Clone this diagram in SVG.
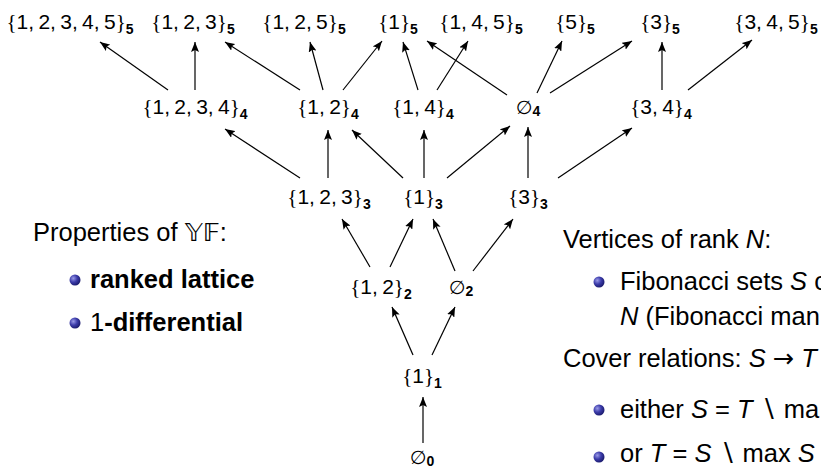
<svg xmlns="http://www.w3.org/2000/svg" width="821" height="468" viewBox="0 0 821 468">
<style>
  .lbl { font-family: "Liberation Sans", Arial, sans-serif; font-size: 21px; fill: #000; word-spacing: -1.5px; text-anchor: middle; }
  .br { font-family: "Liberation Serif", "Times New Roman", serif; }
  .sub { font-size: 14px; font-weight: bold; }
  .emp { font-family: "DejaVu Sans", sans-serif; font-style: italic; font-size: 19px; }
  .body { font-family: "Liberation Sans", Arial, sans-serif; font-size: 25.5px; fill: #000; }
  .b { font-weight: bold; }
  .it { font-style: italic; }
  .ds { font-family: "DejaVu Sans", sans-serif; }
  .sym { font-family: "DejaVu Sans", sans-serif; }
  .edge { stroke: #000; stroke-width: 1.2; fill: none; marker-end: url(#ah); }
</style>
<defs>
  <marker id="ah" viewBox="0 0 10 8" refX="10" refY="4" markerWidth="10" markerHeight="8" markerUnits="userSpaceOnUse" orient="auto">
    <path d="M0,0 L10,4 L0,8 L2,4 z" fill="#000"/>
  </marker>
  <radialGradient id="ball" cx="0.35" cy="0.35" r="0.7">
    <stop offset="0" stop-color="#9a9ae8"/>
    <stop offset="0.5" stop-color="#3c3caa"/>
    <stop offset="1" stop-color="#18186a"/>
  </radialGradient>
</defs>

<!-- rank 5 -->
<g id="n5_12345"><text class="lbl" x="70" y="29"><tspan class="br">{</tspan>1, 2, 3, 4, 5<tspan class="br">}</tspan><tspan class="sub" dy="5">5</tspan></text></g>
<g id="n5_123"><text class="lbl" x="193" y="29"><tspan class="br">{</tspan>1, 2, 3<tspan class="br">}</tspan><tspan class="sub" dy="5">5</tspan></text></g>
<g id="n5_125"><text class="lbl" x="304" y="29"><tspan class="br">{</tspan>1, 2, 5<tspan class="br">}</tspan><tspan class="sub" dy="5">5</tspan></text></g>
<g id="n5_1"><text class="lbl" x="398" y="29"><tspan class="br">{</tspan>1<tspan class="br">}</tspan><tspan class="sub" dy="5">5</tspan></text></g>
<g id="n5_145"><text class="lbl" x="481" y="29"><tspan class="br">{</tspan>1, 4, 5<tspan class="br">}</tspan><tspan class="sub" dy="5">5</tspan></text></g>
<g id="n5_5"><text class="lbl" x="575" y="29"><tspan class="br">{</tspan>5<tspan class="br">}</tspan><tspan class="sub" dy="5">5</tspan></text></g>
<g id="n5_3"><text class="lbl" x="660" y="29"><tspan class="br">{</tspan>3<tspan class="br">}</tspan><tspan class="sub" dy="5">5</tspan></text></g>
<g id="n5_345"><text class="lbl" x="776" y="29"><tspan class="br">{</tspan>3, 4, 5<tspan class="br">}</tspan><tspan class="sub" dy="5">5</tspan></text></g>

<!-- rank 4 -->
<g id="n4_1234"><text class="lbl" x="195" y="114"><tspan class="br">{</tspan>1, 2, 3, 4<tspan class="br">}</tspan><tspan class="sub" dy="5">4</tspan></text></g>
<g id="n4_12"><text class="lbl" x="328" y="114"><tspan class="br">{</tspan>1, 2<tspan class="br">}</tspan><tspan class="sub" dy="5">4</tspan></text></g>
<g id="n4_14"><text class="lbl" x="423" y="114"><tspan class="br">{</tspan>1, 4<tspan class="br">}</tspan><tspan class="sub" dy="5">4</tspan></text></g>
<g id="n4_e"><text class="lbl" x="528" y="114"><tspan class="emp">∅</tspan><tspan class="sub" dy="2">4</tspan></text></g>
<g id="n4_34"><text class="lbl" x="661" y="114"><tspan class="br">{</tspan>3, 4<tspan class="br">}</tspan><tspan class="sub" dy="5">4</tspan></text></g>

<!-- rank 3 -->
<g id="n3_123"><text class="lbl" x="329" y="204"><tspan class="br">{</tspan>1, 2, 3<tspan class="br">}</tspan><tspan class="sub" dy="5">3</tspan></text></g>
<g id="n3_1"><text class="lbl" x="423" y="204"><tspan class="br">{</tspan>1<tspan class="br">}</tspan><tspan class="sub" dy="5">3</tspan></text></g>
<g id="n3_3"><text class="lbl" x="528" y="204"><tspan class="br">{</tspan>3<tspan class="br">}</tspan><tspan class="sub" dy="5">3</tspan></text></g>

<!-- rank 2 -->
<g id="n2_12"><text class="lbl" x="381" y="294"><tspan class="br">{</tspan>1, 2<tspan class="br">}</tspan><tspan class="sub" dy="5">2</tspan></text></g>
<g id="n2_e"><text class="lbl" x="461" y="294"><tspan class="emp">∅</tspan><tspan class="sub" dy="2">2</tspan></text></g>

<!-- rank 1 -->
<g id="n1_1"><text class="lbl" x="422" y="383"><tspan class="br">{</tspan>1<tspan class="br">}</tspan><tspan class="sub" dy="5">1</tspan></text></g>

<!-- rank 0 -->
<g id="n0_e"><text class="lbl" x="422" y="464"><tspan class="emp">∅</tspan><tspan class="sub" dy="2">0</tspan></text></g>

<!-- connectors -->
<g id="edges">
  <line class="edge" x1="423" y1="443" x2="423" y2="397"/>
  <line class="edge" x1="413" y1="355" x2="392" y2="307"/>
  <line class="edge" x1="432" y1="355" x2="455" y2="307"/>
  <line class="edge" x1="370" y1="267" x2="342" y2="219"/>
  <line class="edge" x1="390" y1="267" x2="413" y2="219"/>
  <line class="edge" x1="455" y1="271" x2="433" y2="219"/>
  <line class="edge" x1="473" y1="271" x2="513" y2="219"/>
  <line class="edge" x1="300" y1="178" x2="225" y2="129"/>
  <line class="edge" x1="328" y1="178" x2="328" y2="130"/>
  <line class="edge" x1="403" y1="178" x2="352" y2="130"/>
  <line class="edge" x1="424" y1="178" x2="424" y2="130"/>
  <line class="edge" x1="447" y1="178" x2="510" y2="126"/>
  <line class="edge" x1="528" y1="178" x2="528" y2="127"/>
  <line class="edge" x1="558" y1="178" x2="632" y2="128"/>
  <line class="edge" x1="168" y1="90" x2="100" y2="42"/>
  <line class="edge" x1="195" y1="90" x2="195" y2="42"/>
  <line class="edge" x1="300" y1="90" x2="225" y2="42"/>
  <line class="edge" x1="323" y1="90" x2="310" y2="42"/>
  <line class="edge" x1="343" y1="90" x2="382" y2="41"/>
  <line class="edge" x1="418" y1="90" x2="403" y2="42"/>
  <line class="edge" x1="437" y1="90" x2="468" y2="41"/>
  <line class="edge" x1="507" y1="95" x2="427" y2="41"/>
  <line class="edge" x1="537" y1="93" x2="562" y2="41"/>
  <line class="edge" x1="550" y1="93" x2="632" y2="41"/>
  <line class="edge" x1="662" y1="90" x2="662" y2="42"/>
  <line class="edge" x1="688" y1="90" x2="752" y2="40"/>
</g>

<!-- left text -->
<g id="props">
  <text class="body" x="33" y="241">Properties of <tspan class="ds">𝕐𝔽</tspan>:</text>
  <circle cx="75" cy="280" r="5.5" fill="url(#ball)"/>
  <text class="body b" x="90" y="288">ranked lattice</text>
  <circle cx="75" cy="323" r="5.5" fill="url(#ball)"/>
  <text class="body" x="90" y="331">1<tspan class="b">-differential</tspan></text>
</g>

<!-- right text -->
<g id="vertices">
  <text class="body" x="563" y="248">Vertices of rank <tspan class="it">N</tspan>:</text>
  <circle cx="599" cy="282" r="5.5" fill="url(#ball)"/>
  <text class="body" x="620" y="290">Fibonacci sets <tspan class="it">S</tspan> c</text>
  <text class="body" x="620" y="325"><tspan class="it">N</tspan> (Fibonacci man</text>
  <text class="body" x="563" y="367">Cover relations: <tspan class="it">S</tspan> <tspan class="sym">→</tspan> <tspan class="it">T</tspan></text>
  <circle cx="599" cy="410" r="5.5" fill="url(#ball)"/>
  <text class="body" x="620" y="418">either <tspan class="it">S</tspan> = <tspan class="it">T</tspan> ∖ ma</text>
  <circle cx="599" cy="457" r="5.5" fill="url(#ball)"/>
  <text class="body" x="620" y="462">or <tspan class="it">T</tspan> = <tspan class="it">S</tspan> ∖ max <tspan class="it">S</tspan></text>
</g>
</svg>
